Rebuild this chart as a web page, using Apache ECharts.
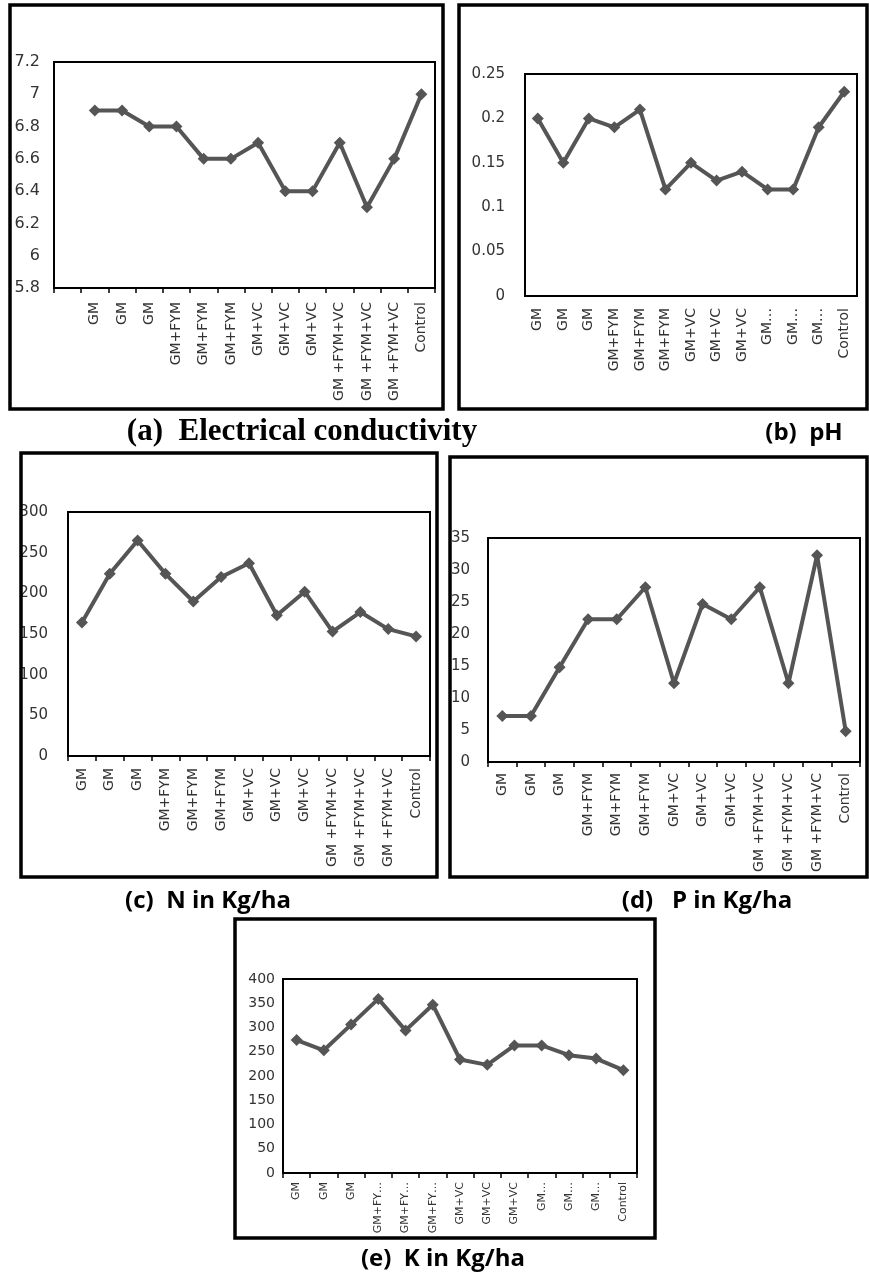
<!DOCTYPE html>
<html>
<head>
<meta charset="utf-8">
<script src="https://cdn.jsdelivr.net/npm/echarts@6/dist/echarts.min.js"></script>
<style>
html,body{margin:0;padding:0;background:#fff;}
#chart{width:869px;height:1275px;}
</style>
</head>
<body>
<div id="chart"></div>
<script>
// ---- data ----
var ecCategories = ["", "GM", "GM", "GM", "GM+FYM", "GM+FYM", "GM+FYM", "GM+VC", "GM+VC", "GM+VC", "GM +FYM+VC", "GM +FYM+VC", "GM +FYM+VC", "Control"];
var ecValues = [null, 6.9, 6.9, 6.8, 6.8, 6.6, 6.6, 6.7, 6.4, 6.4, 6.7, 6.3, 6.6, 7.0];

var phCategories = ["GM", "GM", "GM", "GM+FYM", "GM+FYM", "GM+FYM", "GM+VC", "GM+VC", "GM+VC", "GM…", "GM…", "GM…", "Control"];
var phValues = [0.2, 0.15, 0.2, 0.19, 0.21, 0.12, 0.15, 0.13, 0.14, 0.12, 0.12, 0.19, 0.23];

var nCategories = ["GM", "GM", "GM", "GM+FYM", "GM+FYM", "GM+FYM", "GM+VC", "GM+VC", "GM+VC", "GM +FYM+VC", "GM +FYM+VC", "GM +FYM+VC", "Control"];
var nValues = [164, 224, 265, 224, 190, 220, 237, 173, 202, 153, 177, 156, 147];

var pCategories = ["GM", "GM", "GM", "GM+FYM", "GM+FYM", "GM+FYM", "GM+VC", "GM+VC", "GM+VC", "GM +FYM+VC", "GM +FYM+VC", "GM +FYM+VC", "Control"];
var pValues = [7.2, 7.2, 14.8, 22.3, 22.3, 27.3, 12.3, 24.7, 22.3, 27.3, 12.3, 32.3, 4.8];

var kCategories = ["GM", "GM", "GM", "GM+FY…", "GM+FY…", "GM+FY…", "GM+VC", "GM+VC", "GM+VC", "GM…", "GM…", "GM…", "Control"];
var kValues = [274, 253, 306, 359, 294, 347, 234, 223, 263, 263, 243, 236, 212];

var captions = ["(a)  Electrical conductivity", "(b)  pH", "(c)  N in Kg/ha", "(d)   P in Kg/ha", "(e)  K in Kg/ha"];

// ---- layout ----
var LINE = '#555555';
var LABEL = '#333333';
var FONT = 'DejaVu Sans';

var panels = [
  {cats: ecCategories, vals: ecValues, min: 5.8, max: 7.2, step: 0.2,
   grid: {left: 54, top: 62, width: 381, height: 226},
   yMargin: 14, xMargin: 14, yFont: 16, xFont: 14, ticks: true},
  {cats: phCategories, vals: phValues, min: 0, max: 0.25, step: 0.05,
   grid: {left: 525, top: 74, width: 332, height: 222},
   yMargin: 20, xMargin: 12, yFont: 15, xFont: 14, ticks: false},
  {cats: nCategories, vals: nValues, min: 0, max: 300, step: 50,
   grid: {left: 68, top: 512, width: 362, height: 244},
   yMargin: 20, xMargin: 12, yFont: 15, xFont: 14, ticks: true},
  {cats: pCategories, vals: pValues, min: 0, max: 35, step: 5,
   grid: {left: 488, top: 538, width: 372, height: 224},
   yMargin: 18, xMargin: 11, yFont: 15, xFont: 14, ticks: true},
  {cats: kCategories, vals: kValues, min: 0, max: 400, step: 50,
   grid: {left: 283, top: 979, width: 354, height: 194},
   yMargin: 8, xMargin: 9, yFont: 14, xFont: 11, ticks: true}
];

var grids = [], xAxes = [], yAxes = [], series = [];
panels.forEach(function (p, i) {
  grids.push(Object.assign({show: true, borderColor: '#000', borderWidth: 2, backgroundColor: '#fff', containLabel: false}, p.grid));
  xAxes.push({
    type: 'category', gridIndex: i, data: p.cats, boundaryGap: true,
    axisLine: {show: true, lineStyle: {color: '#000', width: 2}},
    axisTick: {show: p.ticks, length: 5, lineStyle: {color: '#000', width: 1.5}},
    axisLabel: {rotate: 90, interval: 0, margin: p.xMargin, fontSize: p.xFont, fontFamily: FONT, color: LABEL, hideOverlap: false},
    splitLine: {show: false}
  });
  yAxes.push({
    type: 'value', gridIndex: i, min: p.min, max: p.max, interval: p.step,
    axisLine: {show: true, lineStyle: {color: '#000', width: 2}},
    axisTick: {show: false},
    axisLabel: {margin: p.yMargin, fontSize: p.yFont, fontFamily: FONT, color: LABEL},
    splitLine: {show: false}
  });
  series.push({
    type: 'line', xAxisIndex: i, yAxisIndex: i, data: p.vals,
    symbol: 'diamond', symbolSize: 12, showSymbol: true,
    lineStyle: {color: LINE, width: 4},
    itemStyle: {color: LINE},
    animation: false, silent: true
  });
});

var frames = [
  {x: 10, y: 5, width: 433, height: 404},
  {x: 459, y: 5, width: 408, height: 404},
  {x: 21, y: 453, width: 416, height: 424},
  {x: 450, y: 457, width: 417, height: 420},
  {x: 235, y: 919, width: 420, height: 319}
];

var graphics = frames.map(function (f) {
  return {type: 'rect', shape: f, style: {fill: 'none', stroke: '#000', lineWidth: 3.5}, z: 100};
});

var capPos = [
  {x: 302, y: 432, font: 'bold 31px "Liberation Serif"'},
  {x: 804, y: 433, font: 'bold 24px "Open Sans"'},
  {x: 208, y: 901, font: 'bold 24px "Open Sans"'},
  {x: 707, y: 901, font: 'bold 24px "Open Sans"'},
  {x: 443, y: 1259, font: 'bold 24px "Open Sans"'}
];
captions.forEach(function (c, i) {
  graphics.push({
    type: 'text', x: capPos[i].x, y: capPos[i].y, z: 100,
    style: {text: c, font: capPos[i].font, fill: '#000', align: 'center', verticalAlign: 'middle'}
  });
});

var chart = echarts.init(document.getElementById('chart'), null, {renderer: 'canvas'});
chart.setOption({
  animation: false,
  backgroundColor: '#fff',
  grid: grids,
  xAxis: xAxes,
  yAxis: yAxes,
  series: series,
  graphic: graphics
});
</script>
</body>
</html>
